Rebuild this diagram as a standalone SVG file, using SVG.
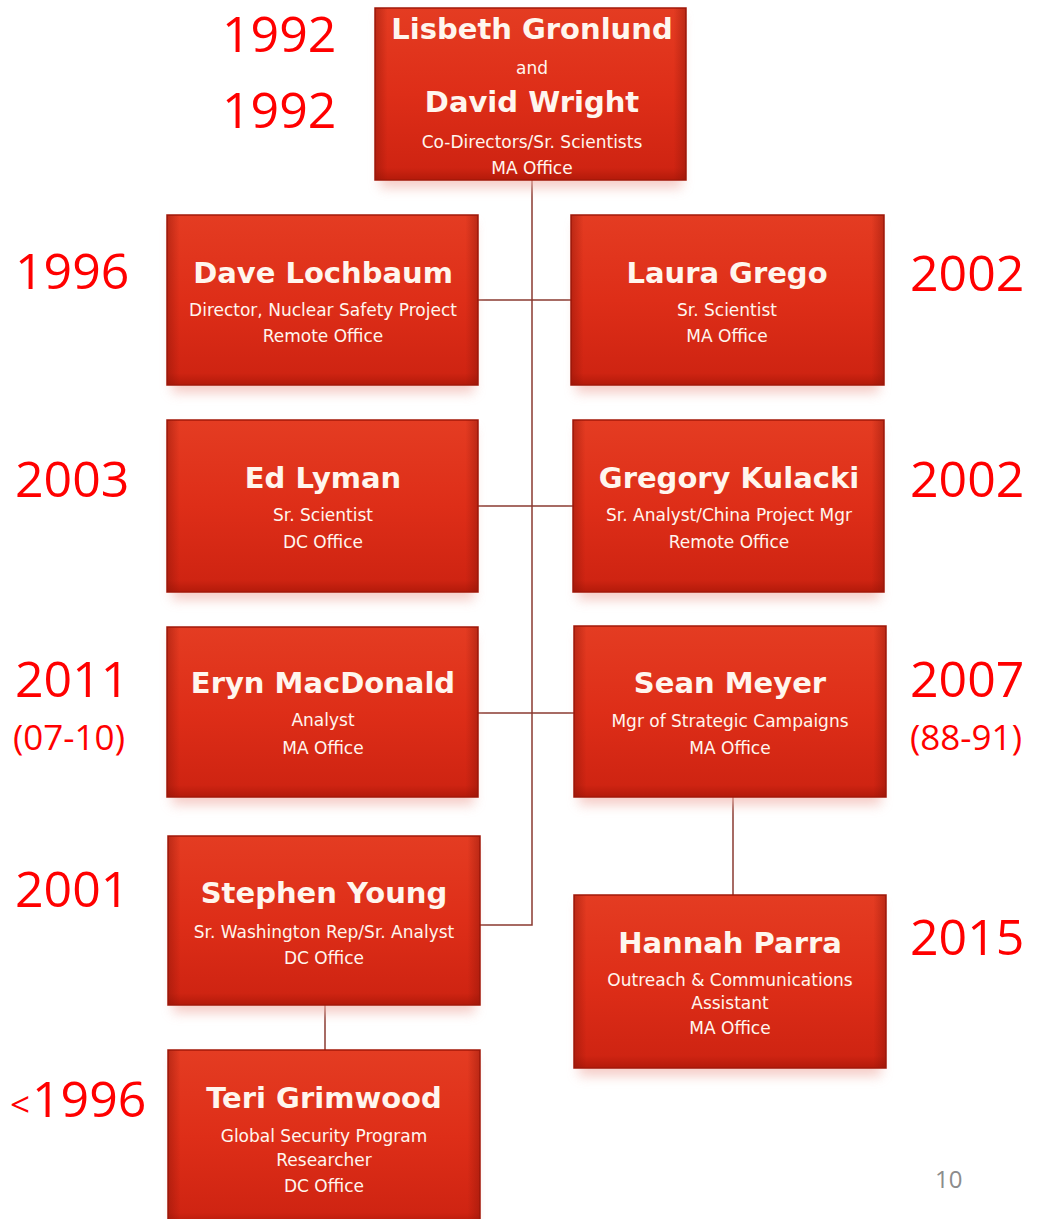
<svg xmlns="http://www.w3.org/2000/svg" width="1038" height="1219" viewBox="0 0 1038 1219">
<defs>
<linearGradient id="gv" x1="0" y1="0" x2="0" y2="1">
<stop offset="0" stop-color="#e43c22"/>
<stop offset="0.5" stop-color="#de2e18"/>
<stop offset="0.93" stop-color="#cf2412"/>
<stop offset="1" stop-color="#b31a0a"/>
</linearGradient>
<linearGradient id="gh" x1="0" y1="0" x2="1" y2="0">
<stop offset="0" stop-color="#8a1408" stop-opacity="0.45"/>
<stop offset="0.04" stop-color="#8a1408" stop-opacity="0"/>
<stop offset="0.96" stop-color="#8a1408" stop-opacity="0"/>
<stop offset="1" stop-color="#8a1408" stop-opacity="0.45"/>
</linearGradient>
<filter id="sh" x="-10%" y="-10%" width="120%" height="130%">
<feGaussianBlur stdDeviation="6"/>
</filter>
</defs>
<style>
.box{fill:url(#gv);stroke:#a3180a;stroke-width:1.5}
.edge{fill:url(#gh)}
.shadow{fill:#f2b8b0;opacity:0.7;filter:url(#sh)}
.name{font-family:"DejaVu Sans",sans-serif;font-weight:bold;font-size:29px;fill:#fff6ee;text-anchor:middle}
.sub{font-family:"DejaVu Sans",sans-serif;font-size:17px;fill:#fff6ee;text-anchor:middle}
.yr{font-family:"Open Sans","Liberation Sans",sans-serif;font-size:50px;fill:#ff0000}
.yrs{font-family:"Open Sans","Liberation Sans",sans-serif;font-size:35px;fill:#ff0000}
.con{stroke:#8a3a30;stroke-width:1.5;fill:none}
</style>
<rect width="1038" height="1219" fill="#ffffff"/>

<g id="connectors">
<path class="con" d="M532 180 V925 H480"/>
<path class="con" d="M478 300 H571"/>
<path class="con" d="M478 506 H573"/>
<path class="con" d="M478 713 H574"/>
<path class="con" d="M733 797 V895"/>
<path class="con" d="M325 1005 V1050"/>
</g>

<g id="n-gronlund-wright">
<rect class="shadow" x="380" y="16" width="302" height="172"/>
<rect class="box" x="375" y="8" width="311" height="172"/>
<rect class="edge" x="375" y="8" width="311" height="172"/>
<text class="name" x="532" y="39">Lisbeth Gronlund</text>
<text class="sub" x="532" y="74" font-size="14">and</text>
<text class="name" x="532" y="112">David Wright</text>
<text class="sub" x="532" y="148">Co-Directors/Sr. Scientists</text>
<text class="sub" x="532" y="174">MA Office</text>
</g>

<g id="n-lochbaum">
<rect class="shadow" x="172" y="223" width="302" height="170"/>
<rect class="box" x="167" y="215" width="311" height="170"/>
<rect class="edge" x="167" y="215" width="311" height="170"/>
<text class="name" x="323" y="283">Dave Lochbaum</text>
<text class="sub" x="323" y="316">Director, Nuclear Safety Project</text>
<text class="sub" x="323" y="342">Remote Office</text>
</g>

<g id="n-grego">
<rect class="shadow" x="576" y="223" width="303" height="170"/>
<rect class="box" x="571" y="215" width="313" height="170"/>
<rect class="edge" x="571" y="215" width="313" height="170"/>
<text class="name" x="727" y="283">Laura Grego</text>
<text class="sub" x="727" y="316">Sr. Scientist</text>
<text class="sub" x="727" y="342">MA Office</text>
</g>

<g id="n-lyman">
<rect class="shadow" x="172" y="428" width="302" height="172"/>
<rect class="box" x="167" y="420" width="311" height="172"/>
<rect class="edge" x="167" y="420" width="311" height="172"/>
<text class="name" x="323" y="488">Ed Lyman</text>
<text class="sub" x="323" y="521">Sr. Scientist</text>
<text class="sub" x="323" y="548">DC Office</text>
</g>

<g id="n-kulacki">
<rect class="shadow" x="578" y="428" width="302" height="172"/>
<rect class="box" x="573" y="420" width="311" height="172"/>
<rect class="edge" x="573" y="420" width="311" height="172"/>
<text class="name" x="729" y="488">Gregory Kulacki</text>
<text class="sub" x="729" y="521">Sr. Analyst/China Project Mgr</text>
<text class="sub" x="729" y="548">Remote Office</text>
</g>

<g id="n-macdonald">
<rect class="shadow" x="172" y="635" width="302" height="170"/>
<rect class="box" x="167" y="627" width="311" height="170"/>
<rect class="edge" x="167" y="627" width="311" height="170"/>
<text class="name" x="323" y="693">Eryn MacDonald</text>
<text class="sub" x="323" y="726">Analyst</text>
<text class="sub" x="323" y="754">MA Office</text>
</g>

<g id="n-meyer">
<rect class="shadow" x="579" y="634" width="302" height="171"/>
<rect class="box" x="574" y="626" width="312" height="171"/>
<rect class="edge" x="574" y="626" width="312" height="171"/>
<text class="name" x="730" y="693">Sean Meyer</text>
<text class="sub" x="730" y="727">Mgr of Strategic Campaigns</text>
<text class="sub" x="730" y="754">MA Office</text>
</g>

<g id="n-young">
<rect class="shadow" x="173" y="844" width="302" height="169"/>
<rect class="box" x="168" y="836" width="312" height="169"/>
<rect class="edge" x="168" y="836" width="312" height="169"/>
<text class="name" x="324" y="903">Stephen Young</text>
<text class="sub" x="324" y="938">Sr. Washington Rep/Sr. Analyst</text>
<text class="sub" x="324" y="964">DC Office</text>
</g>

<g id="n-parra">
<rect class="shadow" x="579" y="903" width="302" height="173"/>
<rect class="box" x="574" y="895" width="312" height="173"/>
<rect class="edge" x="574" y="895" width="312" height="173"/>
<text class="name" x="730" y="953">Hannah Parra</text>
<text class="sub" x="730" y="986">Outreach &amp; Communications</text>
<text class="sub" x="730" y="1009">Assistant</text>
<text class="sub" x="730" y="1034">MA Office</text>
</g>

<g id="n-grimwood">
<rect class="shadow" x="173" y="1058" width="302" height="170"/>
<rect class="box" x="168" y="1050" width="312" height="175"/>
<rect class="edge" x="168" y="1050" width="312" height="175"/>
<text class="name" x="324" y="1108">Teri Grimwood</text>
<text class="sub" x="324" y="1142">Global Security Program</text>
<text class="sub" x="324" y="1166">Researcher</text>
<text class="sub" x="324" y="1192">DC Office</text>
</g>

<g id="years">
<text class="yr" x="222" y="52" font-size="48">1992</text>
<text class="yr" x="222" y="128">1992</text>
<text class="yr" x="15" y="289">1996</text>
<text class="yr" x="910" y="291">2002</text>
<text class="yr" x="15" y="497">2003</text>
<text class="yr" x="910" y="497">2002</text>
<text class="yr" x="15" y="697">2011</text>
<text class="yrs" x="13" y="750">(07-10)</text>
<text class="yr" x="910" y="697">2007</text>
<text class="yrs" x="910" y="750">(88-91)</text>
<text class="yr" x="15" y="907">2001</text>
<text class="yr" x="910" y="955">2015</text>
<text class="yrs" x="10" y="1117" font-size="26">&lt;</text>
<text class="yr" x="32" y="1117">1996</text>
<text x="935" y="1188" font-family="'Open Sans','Liberation Sans',sans-serif" font-size="24" fill="#8c8c8c">10</text>
</g>
</svg>
